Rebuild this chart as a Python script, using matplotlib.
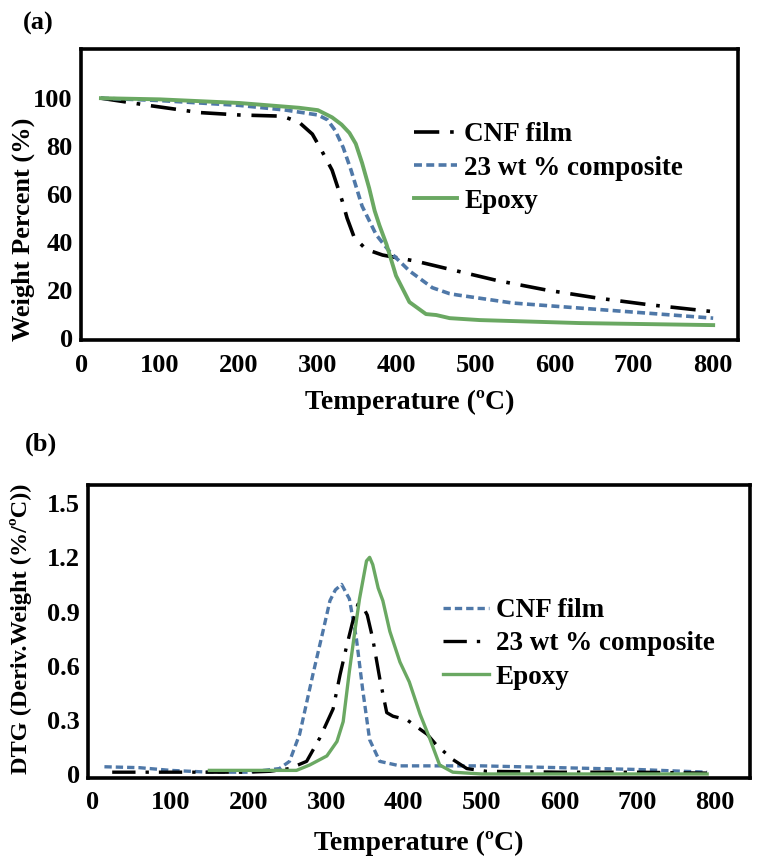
import matplotlib
matplotlib.use("Agg")
import matplotlib.pyplot as plt

# ---------------- Panel (a) data: TGA ----------------
cnf_a_T = [25, 45, 85, 150, 200, 255, 276, 293, 305, 318, 331, 337, 346, 361, 382, 425, 463, 527, 590, 654, 717, 801]
cnf_a_W = [100, 99, 97, 94, 93, 92.5, 90, 85, 78, 70, 57, 50, 42, 37, 34.6, 32, 29, 24, 20, 16.7, 14, 11]

comp_a_T = [25, 100, 200, 260, 300, 312, 322, 332, 342, 356, 374, 391, 416, 445, 467, 476, 547, 632, 717, 801]
comp_a_W = [100, 99, 97, 95, 93, 91, 86.5, 79.5, 70, 55, 43, 36, 28, 21, 18.5, 18, 14.6, 12.5, 10.4, 8.3]

epoxy_a_T = [25, 100, 200, 276, 300, 318, 330, 340, 348, 356, 365, 372, 378, 387, 399, 416, 437, 450, 467, 505, 632, 801]
epoxy_a_W = [100, 99.5, 98, 96, 95, 92, 89, 85.5, 81, 73, 62.5, 53, 47, 39, 26, 15, 10, 9.6, 8.3, 7.5, 6.25, 5.4]

# ---------------- Panel (b) data: DTG ----------------
cnf_b_T = [15, 60, 100, 150, 200, 240, 253, 266, 283, 296, 305, 312, 320, 330, 339, 347, 356, 369, 395, 450, 500, 600, 700, 790]
cnf_b_D = [0.04, 0.035, 0.02, 0.01, 0.01, 0.03, 0.07, 0.22, 0.55, 0.79, 0.96, 1.02, 1.05, 0.97, 0.75, 0.47, 0.19, 0.07, 0.045, 0.045, 0.045, 0.035, 0.025, 0.01]

comp_b_T = [25, 100, 200, 228, 253, 275, 292, 309, 318, 326, 334, 341, 347, 353, 360, 369, 378, 386, 404, 430, 442, 463, 481, 506, 600, 700, 790]
comp_b_D = [0.01, 0.01, 0.01, 0.015, 0.03, 0.07, 0.2, 0.36, 0.55, 0.7, 0.84, 0.94, 0.93, 0.88, 0.75, 0.53, 0.34, 0.32, 0.30, 0.22, 0.16, 0.08, 0.03, 0.015, 0.01, 0.01, 0.005]

epoxy_b_T = [150, 200, 262, 279, 301, 314, 322, 330, 337, 343, 352, 356, 360, 367, 373, 382, 395, 407, 421, 433, 446, 463, 500, 600, 700, 790]
epoxy_b_D = [0.02, 0.02, 0.02, 0.05, 0.1, 0.18, 0.29, 0.57, 0.79, 0.97, 1.18, 1.2, 1.16, 1.03, 0.96, 0.79, 0.62, 0.51, 0.33, 0.2, 0.05, 0.01, 0.0, 0.0, 0.0, 0.0]

x_ticks = [0, 100, 200, 300, 400, 500, 600, 700, 800]
ya_ticks = [0, 20, 40, 60, 80, 100]
yb_ticks = [0, 0.3, 0.6, 0.9, 1.2, 1.5]
yb_labels = ["0", "0.3", "0.6", "0.9", "1.2", "1.5"]

labels_a = ["CNF film", "23 wt % composite", "Epoxy"]
labels_b = ["CNF film", "23 wt % composite", "Epoxy"]

BLUE = "#4f78a8"
GREEN = "#6aa862"
BLACK = "#000000"
FONT = "Liberation Serif"

plt.rcParams["font.family"] = [FONT, "DejaVu Serif"]
plt.rcParams["font.weight"] = "bold"

fig = plt.figure(figsize=(7.66, 8.64), dpi=100)
ax1 = fig.add_axes([0.106, 0.6065, 0.858, 0.3368])
ax2 = fig.add_axes([0.115, 0.100, 0.864, 0.3385])

dashdot = (0, (7, 3, 1, 3))
dashed = (0, (2.2, 1.2))

# Panel (a)
ax1.plot(cnf_a_T, cnf_a_W, color=BLACK, lw=2.6, linestyle=dashdot, label=labels_a[0])
ax1.plot(comp_a_T, comp_a_W, color=BLUE, lw=2.6, linestyle=dashed, label=labels_a[1])
ax1.plot(epoxy_a_T, epoxy_a_W, color=GREEN, lw=2.8, linestyle="-", label=labels_a[2])
ax1.set_xlim(0, 833)
ax1.set_ylim(-0.8, 120.5)
ax1.set_xticks(x_ticks)
ax1.set_yticks(ya_ticks)
ax1.set_xlabel("Temperature (ºC)", fontsize=20, fontweight="bold", labelpad=9)
ax1.set_ylabel("Weight Percent (%)", fontsize=19, fontweight="bold")
ax1.yaxis.set_label_coords(-0.07, 0.38)
leg1 = ax1.legend(loc="upper left", bbox_to_anchor=(0.49, 0.785), frameon=False,
                  fontsize=19.5, handlelength=1.6, handletextpad=0.25, labelspacing=0.3,
                  borderaxespad=0)

# Panel (b)
ax2.plot(cnf_b_T, cnf_b_D, color=BLUE, lw=2.4, linestyle=dashed, label=labels_b[0])
ax2.plot(comp_b_T, comp_b_D, color=BLACK, lw=2.4, linestyle=dashdot, label=labels_b[1])
ax2.plot(epoxy_b_T, epoxy_b_D, color=GREEN, lw=2.4, linestyle="-", label=labels_b[2])
ax2.set_xlim(-6, 845)
ax2.set_ylim(-0.02, 1.6)
ax2.set_xticks(x_ticks)
ax2.set_yticks(yb_ticks)
ax2.set_yticklabels(yb_labels)
ax2.set_xlabel("Temperature (ºC)", fontsize=20, fontweight="bold", labelpad=12)
ax2.set_ylabel("DTG (Deriv.Weight (%/ºC))", fontsize=17.5, fontweight="bold")
ax2.yaxis.set_label_coords(-0.085, 0.51)
leg2 = ax2.legend(loc="upper left", bbox_to_anchor=(0.52, 0.65), frameon=False,
                  fontsize=19.5, handlelength=1.7, handletextpad=0.25, labelspacing=0.3,
                  borderaxespad=0)

for ax in (ax1, ax2):
    for s in ax.spines.values():
        s.set_linewidth(2.6)
        s.set_color("black")
    ax.tick_params(axis="x", length=0, labelsize=19, pad=10)
    ax.tick_params(axis="y", length=0, labelsize=19, pad=6)
    for t in ax.get_xticklabels() + ax.get_yticklabels():
        t.set_fontweight("bold")

fig.text(0.030, 0.973, "(a)", fontsize=19, fontweight="bold", va="center", ha="left")
fig.text(0.032, 0.486, "(b)", fontsize=19, fontweight="bold", va="center", ha="left")

fig.savefig("out.png", dpi=100)
